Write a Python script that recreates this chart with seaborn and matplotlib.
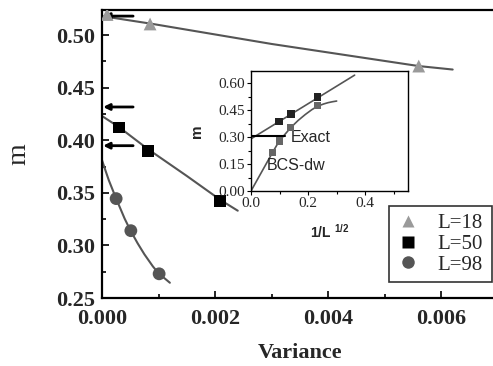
import numpy as np
import pandas as pd
import matplotlib
matplotlib.use("Agg")
import matplotlib.pyplot as plt
from matplotlib.lines import Line2D
from matplotlib.ticker import MultipleLocator
import seaborn as sns

# ---------------- data ----------------
var_18 = [0.00009, 0.00085, 0.0056]
m_18 = [0.5195, 0.5105, 0.4705]
fit_x_18 = [0.0, 0.0009, 0.003, 0.0056, 0.0062]
fit_y_18 = [0.518, 0.5105, 0.4915, 0.4705, 0.4672]

var_50 = [0.0003, 0.00081, 0.00209]
m_50 = [0.412, 0.390, 0.3425]
fit_x_50 = [0.0, 0.0003, 0.0008, 0.0015, 0.0021, 0.0024]
fit_y_50 = [0.423, 0.4125, 0.392, 0.366, 0.343, 0.333]

var_98 = [0.00025, 0.00051, 0.00101]
m_98 = [0.3445, 0.314, 0.273]
fit_x_98 = [0.0, 0.00005, 0.00012, 0.00025, 0.0004, 0.0005, 0.00063, 0.00075, 0.0009, 0.001, 0.0012]
fit_y_98 = [0.381, 0.373, 0.362, 0.3445, 0.3255, 0.3145, 0.302, 0.2915, 0.280, 0.2735, 0.2645]

arrow_y = [0.518, 0.4316, 0.3948]

# inset
inv_sqrt_L = [0.098, 0.140, 0.234]
m_exact_pts = [0.385, 0.428, 0.522]
exact_line_x = [0.0, 0.363]
exact_line_y = [0.29, 0.644]

bcs_x = [0.075, 0.099, 0.139, 0.234]
bcs_m = [0.213, 0.278, 0.352, 0.474]
bcs_curve_x = [0.0, 0.075, 0.099, 0.139, 0.165, 0.19, 0.213, 0.234, 0.255, 0.27, 0.285, 0.30]
bcs_curve_y = [0.0, 0.213, 0.278, 0.352, 0.392, 0.425, 0.452, 0.472, 0.484, 0.491, 0.496, 0.500]

exact_value_x = [0.0, 0.12]
exact_value_y = [0.305, 0.305]

labels = ["L=18", "L=50", "L=98"]
colors = ["#9a9a9a", "#000000", "#555555"]
markers = ["^", "s", "o"]
sizes = [85, 70, 85]

# ---------------- figure ----------------
sns.set_theme(style="ticks")
plt.rcParams["font.family"] = ["Liberation Serif", "DejaVu Serif"]

fig = plt.figure(figsize=(4.93, 3.66), dpi=100)
W, H = 493, 366
ax = fig.add_axes([102 / W, 1 - 298 / H, (493 - 102) / W + 0.01, (298 - 10) / H])

line_col = "#555555"
for fx, fy in [(fit_x_18, fit_y_18), (fit_x_50, fit_y_50), (fit_x_98, fit_y_98)]:
    sns.lineplot(x=fx, y=fy, ax=ax, color=line_col, lw=1.5, sort=False, estimator=None)

for xs, ys, c, mk, sz in zip([var_18, var_50, var_98], [m_18, m_50, m_98], colors, markers, sizes):
    sns.scatterplot(x=xs, y=ys, ax=ax, color=c, marker=mk, s=sz, edgecolor="none", zorder=5)

for y in arrow_y:
    ax.annotate("", xy=(0.00002, y), xytext=(0.00055, y),
                arrowprops=dict(arrowstyle="-|>", color="black", lw=2, mutation_scale=9,
                                shrinkA=0, shrinkB=0))

ax.set_xlim(0, 0.0070)
ax.set_ylim(0.25, 0.5238)
ax.xaxis.set_major_locator(MultipleLocator(0.002))
ax.xaxis.set_minor_locator(MultipleLocator(0.001))
ax.yaxis.set_major_locator(MultipleLocator(0.05))
ax.yaxis.set_minor_locator(MultipleLocator(0.025))
ax.xaxis.set_major_formatter(matplotlib.ticker.FormatStrFormatter("%.3f"))
ax.yaxis.set_major_formatter(matplotlib.ticker.FormatStrFormatter("%.2f"))
ax.tick_params(which="both", direction="in", top=False, right=False, width=1.2, color="black")
ax.tick_params(which="major", length=5, labelsize=16)
ax.tick_params(axis="y", which="major", pad=5)
ax.tick_params(axis="x", which="major", pad=8)
ax.tick_params(which="minor", length=3)
for lab in ax.get_xticklabels() + ax.get_yticklabels():
    lab.set_fontweight("bold")
for s in ["left", "bottom", "top"]:
    ax.spines[s].set_linewidth(1.6)
    ax.spines[s].set_color("black")
ax.spines["right"].set_visible(False)
ax.set_xlabel("Variance", fontsize=16, fontweight="bold", labelpad=10)
ax.set_ylabel("m", fontsize=20, labelpad=18)

handles = [Line2D([], [], ls="none", marker=mk, color=c, markersize=9, markeredgecolor="none")
           for mk, c in zip(markers, colors)]
leg = ax.legend(handles, labels, loc="lower left", bbox_to_anchor=(0.724, 0.056, 0.261, 0.281),
                mode="expand", frameon=True, fancybox=False, fontsize=15, handlelength=1.2,
                borderaxespad=0, labelspacing=0.05, handletextpad=0.8, borderpad=0.35)
leg.get_frame().set_edgecolor("black")
leg.get_frame().set_linewidth(1.2)

# ---------------- inset ----------------
ins = fig.add_axes([251 / W, 1 - 191 / H, (408 - 251) / W, (191 - 71) / H])
sns.lineplot(x=exact_line_x, y=exact_line_y, ax=ins, color=line_col, lw=1.2, sort=False, estimator=None)
sns.lineplot(x=bcs_curve_x, y=bcs_curve_y, ax=ins, color=line_col, lw=1.2, sort=False, estimator=None)
sns.lineplot(x=exact_value_x, y=exact_value_y, ax=ins, color="black", lw=1.5, sort=False, estimator=None)
sns.scatterplot(x=inv_sqrt_L, y=m_exact_pts, ax=ins, color="#222222", marker="s", s=28,
                edgecolor="none", zorder=5)
sns.scatterplot(x=bcs_x, y=bcs_m, ax=ins, color="#666666", marker="s", s=28,
                edgecolor="none", zorder=5)
ins.text(0.139, 0.30, "Exact", fontsize=11.5, family=["Liberation Sans", "DejaVu Sans"],
         va="center", ha="left")
ins.text(0.055, 0.144, "BCS-dw", fontsize=11.5, family=["Liberation Sans", "DejaVu Sans"],
         va="center", ha="left")
ins.set_xlim(0, 0.55)
ins.set_ylim(0, 0.667)
ins.xaxis.set_major_locator(MultipleLocator(0.2))
ins.xaxis.set_minor_locator(MultipleLocator(0.1))
ins.yaxis.set_major_locator(MultipleLocator(0.15))
ins.yaxis.set_minor_locator(MultipleLocator(0.075))
ins.xaxis.set_major_formatter(matplotlib.ticker.FormatStrFormatter("%.1f"))
ins.yaxis.set_major_formatter(matplotlib.ticker.FormatStrFormatter("%.2f"))
ins.tick_params(which="both", direction="out", width=0.8, color="black", labelsize=11, pad=1.5)
ins.tick_params(which="major", length=3)
ins.tick_params(which="minor", length=2)
for s in ins.spines.values():
    s.set_linewidth(1.0)
    s.set_color("black")
ins.set_ylabel("m", fontsize=11, fontweight="bold", family=["Liberation Sans", "DejaVu Sans"],
               labelpad=10)
ins.set_xlabel(r"1/L $^{\mathregular{1/2}}$", fontsize=10, fontweight="bold",
               family=["Liberation Sans", "DejaVu Sans"], labelpad=9)

fig.savefig("out.png", dpi=100)
